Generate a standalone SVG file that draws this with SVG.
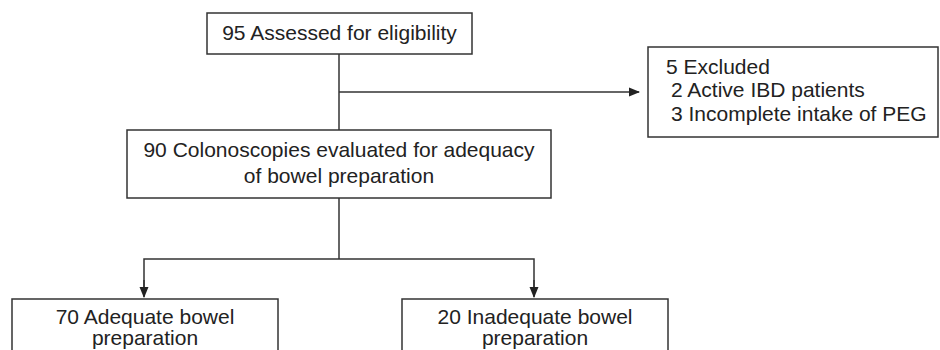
<svg xmlns="http://www.w3.org/2000/svg" width="940" height="350" viewBox="0 0 940 350">
<style>
.box{fill:#fff;stroke:#333;stroke-width:1.5}
.t{font-family:"Liberation Sans",Arial,sans-serif;font-size:21px;fill:#222}
.c{text-anchor:middle}
.ln{fill:none;stroke:#333;stroke-width:1.5}
</style>
<defs>
<marker id="ah" markerWidth="11" markerHeight="11" refX="10" refY="5.5" orient="auto" markerUnits="userSpaceOnUse">
<path d="M0,1 L11,5.5 L0,10 Z" fill="#222"/>
</marker>
</defs>
<rect width="940" height="350" fill="#fff"/>
<g id="connectors">
<line class="ln" x1="339" y1="54" x2="339" y2="130"/>
<line class="ln" x1="339" y1="92" x2="639" y2="92" marker-end="url(#ah)"/>
<line class="ln" x1="339" y1="198" x2="339" y2="259"/>
<polyline class="ln" points="144,296 144,259 534,259 534,296"/>
<line class="ln" x1="144" y1="280" x2="144" y2="297" marker-end="url(#ah)"/>
<line class="ln" x1="534" y1="280" x2="534" y2="297" marker-end="url(#ah)"/>
</g>
<g id="assessed">
<rect class="box" x="207" y="13" width="265" height="41"/>
<text class="t c" x="339.5" y="40">95 Assessed for eligibility</text>
</g>
<g id="excluded">
<rect class="box" x="648" y="47" width="290" height="90"/>
<text class="t" x="666" y="74">5 Excluded</text>
<text class="t" x="671" y="97">2 Active IBD patients</text>
<text class="t" x="671" y="121">3 Incomplete intake of PEG</text>
</g>
<g id="evaluated">
<rect class="box" x="127" y="130" width="424" height="68"/>
<text class="t c" x="339" y="157">90 Colonoscopies evaluated for adequacy</text>
<text class="t c" x="339" y="183">of bowel preparation</text>
</g>
<g id="adequate">
<rect class="box" x="12" y="299" width="266" height="70"/>
<text class="t c" x="145" y="324">70 Adequate bowel</text>
<text class="t c" x="145" y="345">preparation</text>
</g>
<g id="inadequate">
<rect class="box" x="402" y="299" width="266" height="70"/>
<text class="t c" x="535" y="324">20 Inadequate bowel</text>
<text class="t c" x="535" y="345">preparation</text>
</g>
</svg>
